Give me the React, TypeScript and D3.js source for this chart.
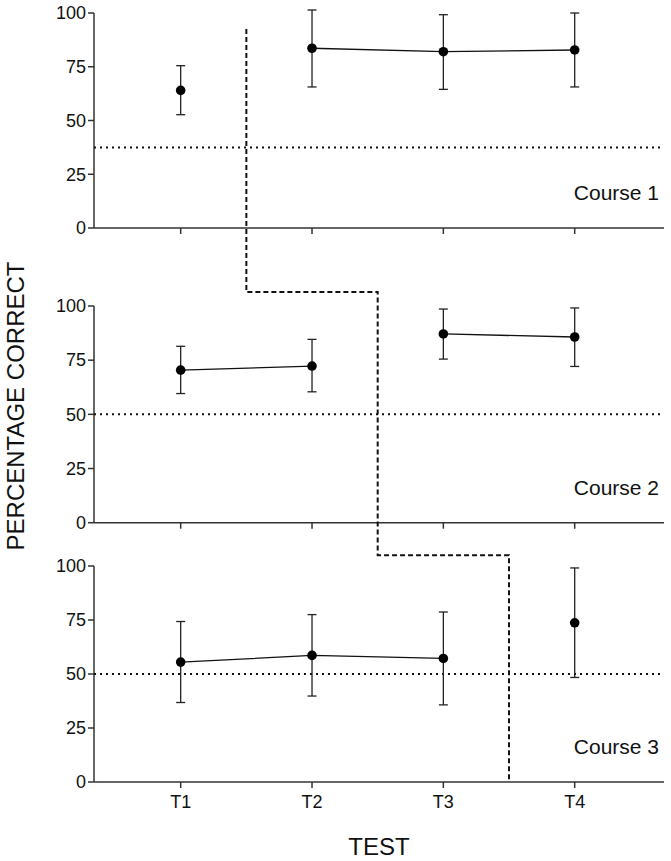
import React from "react";
import * as d3 from "d3";

const tests = ["T1", "T2", "T3", "T4"];
const testPositions = [1, 2, 3, 4];
const yTicks = [0, 25, 50, 75, 100];
const courseNames = ["Course 1", "Course 2", "Course 3"];

const course1Mean = [64.0, 83.6, 82.0, 82.8];
const course1Upper = [75.5, 101.4, 99.2, 100.0];
const course1Lower = [52.7, 65.6, 64.5, 65.6];
const course1Groups = [[0], [1, 2, 3]];

const course2Mean = [70.4, 72.3, 87.1, 85.7];
const course2Upper = [81.4, 84.6, 98.6, 99.1];
const course2Lower = [59.6, 60.4, 75.5, 72.1];
const course2Groups = [[0, 1], [2, 3]];

const course3Mean = [55.5, 58.6, 57.2, 73.7];
const course3Upper = [74.3, 77.5, 78.7, 99.1];
const course3Lower = [36.8, 39.8, 35.7, 48.4];
const course3Groups = [[0, 1, 2], [3]];

const chanceLevels = [37.5, 50, 50];

// boundary step line: [panel index, x position, y value]
const boundaryPanel = [0, 1, 1, 2, 2, 2];
const boundaryX = [1.5, 1.5, 2.5, 2.5, 3.5, 3.5];
const boundaryY = [92.6, 106.5, 106.5, 105, 105, 0];

const W = 671;
const H = 861;
const left = 94;
const right = 664;
const panelTops = [13, 306, 566];
const panelBottoms = [228, 522.7, 782];

const courses = [
  { mean: course1Mean, upper: course1Upper, lower: course1Lower, groups: course1Groups },
  { mean: course2Mean, upper: course2Upper, lower: course2Lower, groups: course2Groups },
  { mean: course3Mean, upper: course3Upper, lower: course3Lower, groups: course3Groups },
];

const font = "Arial, 'Liberation Sans', Helvetica, sans-serif";

export default function App() {
  const x = d3.scaleLinear().domain([0.34, 4.68]).range([left, right]);
  const yScales = panelTops.map((t, i) =>
    d3.scaleLinear().domain([0, 100]).range([panelBottoms[i], t])
  );
  const line = d3.line<number[]>().x((d) => d[0]).y((d) => d[1]);
  const boundaryPts = boundaryX.map((bx, i) => [x(bx), yScales[boundaryPanel[i]](boundaryY[i])]);
  const cap = 4.5;

  return (
    <svg
      width={W}
      height={H}
      style={{ position: "absolute", left: 0, top: 0, background: "#fff" }}
      fontFamily={font}
    >
      {courses.map((c, ci) => {
        const y = yScales[ci];
        return (
          <g key={ci}>
            {/* axes */}
            <line x1={left} x2={left} y1={y(100)} y2={y(0)} stroke="#333" strokeWidth={1.5} />
            <line x1={left} x2={right} y1={y(0)} y2={y(0)} stroke="#333" strokeWidth={1.5} />
            {yTicks.map((t) => (
              <g key={t}>
                <line x1={left - 6} x2={left} y1={y(t)} y2={y(t)} stroke="#333" strokeWidth={1.5} />
                <text x={left - 8} y={y(t)} dy="0.35em" textAnchor="end" fontSize={18} fill="#111">
                  {t}
                </text>
              </g>
            ))}
            {testPositions.map((p) => (
              <line key={p} x1={x(p)} x2={x(p)} y1={y(0)} y2={y(0) + 6} stroke="#333" strokeWidth={1.5} />
            ))}
            {/* chance line */}
            <line
              x1={left}
              x2={right}
              y1={y(chanceLevels[ci])}
              y2={y(chanceLevels[ci])}
              stroke="#111"
              strokeWidth={2}
              strokeDasharray="2 4"
            />
            {/* connecting lines */}
            {c.groups.map((g, gi) =>
              g.length > 1 ? (
                <path
                  key={gi}
                  d={line(g.map((i) => [x(testPositions[i]), y(c.mean[i])])) || ""}
                  fill="none"
                  stroke="#111"
                  strokeWidth={1.3}
                />
              ) : null
            )}
            {/* error bars */}
            {c.mean.map((m, i) => (
              <g key={i}>
                <line x1={x(testPositions[i])} x2={x(testPositions[i])} y1={y(c.upper[i])} y2={y(c.lower[i])} stroke="#222" strokeWidth={1.3} />
                <line x1={x(testPositions[i]) - cap} x2={x(testPositions[i]) + cap} y1={y(c.upper[i])} y2={y(c.upper[i])} stroke="#222" strokeWidth={1.3} />
                <line x1={x(testPositions[i]) - cap} x2={x(testPositions[i]) + cap} y1={y(c.lower[i])} y2={y(c.lower[i])} stroke="#222" strokeWidth={1.3} />
                <circle cx={x(testPositions[i])} cy={y(m)} r={4.8} fill="#000" />
              </g>
            ))}
            <text x={659} y={y(0) - 28} textAnchor="end" fontSize={21} fill="#111">
              {courseNames[ci]}
            </text>
          </g>
        );
      })}
      {/* x tick labels on bottom panel */}
      {tests.map((t, i) => (
        <text key={t} x={x(testPositions[i])} y={808} textAnchor="middle" fontSize={18} fill="#111">
          {t}
        </text>
      ))}
      <path
        d={line(boundaryPts) || ""}
        fill="none"
        stroke="#111"
        strokeWidth={2}
        strokeDasharray="5 3"
      />
      <text x={(left + right) / 2} y={855} textAnchor="middle" fontSize={24} fill="#111">
        TEST
      </text>
      <text
        transform={`translate(24, 406) rotate(-90)`}
        textAnchor="middle"
        fontSize={24}
        fill="#111"
      >
        PERCENTAGE CORRECT
      </text>
    </svg>
  );
}
